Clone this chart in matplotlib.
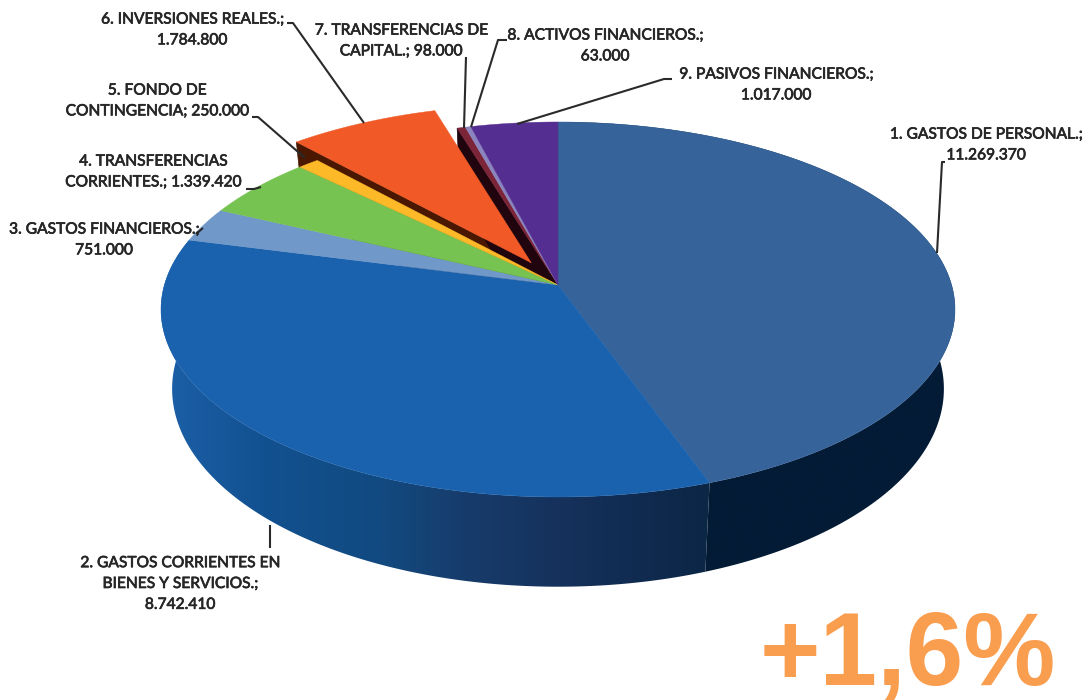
import numpy as np
import matplotlib
matplotlib.use('Agg')
import matplotlib.pyplot as plt
import matplotlib.patheffects as pe
from matplotlib.colors import LinearSegmentedColormap
from matplotlib.patches import Polygon

# Data
names = ['1. GASTOS DE PERSONAL.;\n11.269.370',
         '2. GASTOS CORRIENTES EN\nBIENES Y SERVICIOS.;\n8.742.410',
         '3. GASTOS FINANCIEROS.;\n751.000',
         '4. TRANSFERENCIAS\nCORRIENTES.; 1.339.420',
         '5. FONDO DE\nCONTINGENCIA; 250.000',
         '6. INVERSIONES REALES.;\n1.784.800',
         '7. TRANSFERENCIAS DE\nCAPITAL.; 98.000',
         '8. ACTIVOS FINANCIEROS.;\n63.000',
         '9. PASIVOS FINANCIEROS.;\n1.017.000']
values = [11269370, 8742410, 751000, 1339420, 250000, 1784800, 98000, 63000, 1017000]
explode = [0, 0, 0, 0, 0, 0.14, 0, 0, 0]
colors = ['#366399', '#1B62AE', '#7098C8', '#76C352', '#FDB927',
          '#F15A27', '#7C2438', '#8A85BE', '#552E91']
change_label = '+1,6%'

# Label layout, in pixels of the picture
label_pos = [(986, 145), (180, 584), (104, 240), (153, 172), (157, 101),
             (192, 30), (401, 41), (605, 46), (776, 85)]
leaders = [[(945, 162), (942, 162), (937, 253)],
           [(270, 525), (270, 548)],
           [(196, 234), (203, 228)],
           [(246, 189), (254, 189), (261, 187)],
           [(252, 117), (258, 117), (305, 158)],
           [(287, 23), (293, 23), (364, 123)],
           [(466, 57), (464, 128)],
           [(507, 40), (498, 40), (471, 127)],
           [(672, 79), (664, 79), (517, 124)]]

# Perspective of the disc
cx, cy = 558, 285
rx, ry = 393.6, 184.3
k = 0.1306
depth = 78
shrink = 0.028


def project(u, v, z=0.0):
    d = 1 - k * v
    return cx + rx * u / d * (1 - shrink * z), cy + (ry * v + z * depth) / d


def rim(a, off=(0, 0), z=0.0):
    a = np.radians(a)
    return project(np.sin(a) + off[0], -np.cos(a) + off[1], z)


fractions = np.array(values) / sum(values)
edges = np.concatenate([[0], np.cumsum(fractions) * 360])
offsets = []
for i in range(len(values)):
    mid = np.radians((edges[i] + edges[i + 1]) / 2)
    offsets.append((np.sin(mid) * explode[i], -np.cos(mid) * explode[i]))

fig = plt.figure(figsize=(10.89, 7), dpi=100)
ax = fig.add_axes([0, 0, 1, 1])


def radial_wall(i, angle, color):
    off = offsets[i]
    pts = [rim(angle, off), project(off[0], off[1]),
           project(off[0], off[1], 1), rim(angle, off, 1)]
    ax.add_patch(Polygon(pts, closed=True, fc=color, ec=color, lw=0.5, zorder=1))


def outer_wall(i, cmap):
    angles = np.linspace(edges[i], edges[i + 1], 300)
    pts = [rim(a) for a in angles] + [rim(a, z=1) for a in angles[::-1]]
    shape = Polygon(pts, closed=True, transform=ax.transData, fc='none', ec='none')
    ax.add_patch(shape)
    xs = [p[0] for p in pts]
    ys = [p[1] for p in pts]
    grad = np.linspace(0, 1, 512).reshape(1, -1)
    im = ax.imshow(grad, cmap=cmap, extent=(min(xs), max(xs), max(ys), min(ys)),
                   aspect='auto', zorder=2, interpolation='bilinear')
    im.set_clip_path(shape)


# Walls that show through the gap left by the exploded slice
radial_wall(5, edges[5], '#4A1800')
radial_wall(6, edges[6], '#20040E')

outer_wall(0, LinearSegmentedColormap.from_list('w1', ['#041B36', '#041B36']))
outer_wall(1, LinearSegmentedColormap.from_list('w2', [(0, '#1D60A8'), (0.2, '#11508F'),
                                                       (0.4, '#124A80'), (0.55, '#173C6C'),
                                                       (0.75, '#15305A'), (1, '#0C2646')]))

# Top faces
for i in range(len(values)):
    arc = [rim(a, offsets[i]) for a in np.linspace(edges[i], edges[i + 1], 200)]
    pts = [project(*offsets[i])] + arc
    ax.add_patch(Polygon(pts, closed=True, fc=colors[i], ec=colors[i], lw=0.3,
                         zorder=4 if explode[i] else 3))

# Labels
for name, pos, line in zip(names, label_pos, leaders):
    xs, ys = zip(*line)
    ax.plot(xs, ys, color='#2A2A2A', lw=1.5, zorder=5, solid_capstyle='butt')
    ax.text(pos[0], pos[1], name, ha='center', va='center', family='Lato',
            fontsize=11.2, color='#262626', linespacing=1.62, zorder=6,
            path_effects=[pe.withStroke(linewidth=0.5, foreground='#262626')])

ax.text(1056, 685, change_label, ha='right', va='baseline', family='Liberation Sans',
        fontweight='bold', fontsize=74.5, color='#F99D4F', zorder=6)

ax.set_xlim(0, 1089)
ax.set_ylim(700, 0)
ax.axis('off')

plt.savefig('out.png', dpi=100)
